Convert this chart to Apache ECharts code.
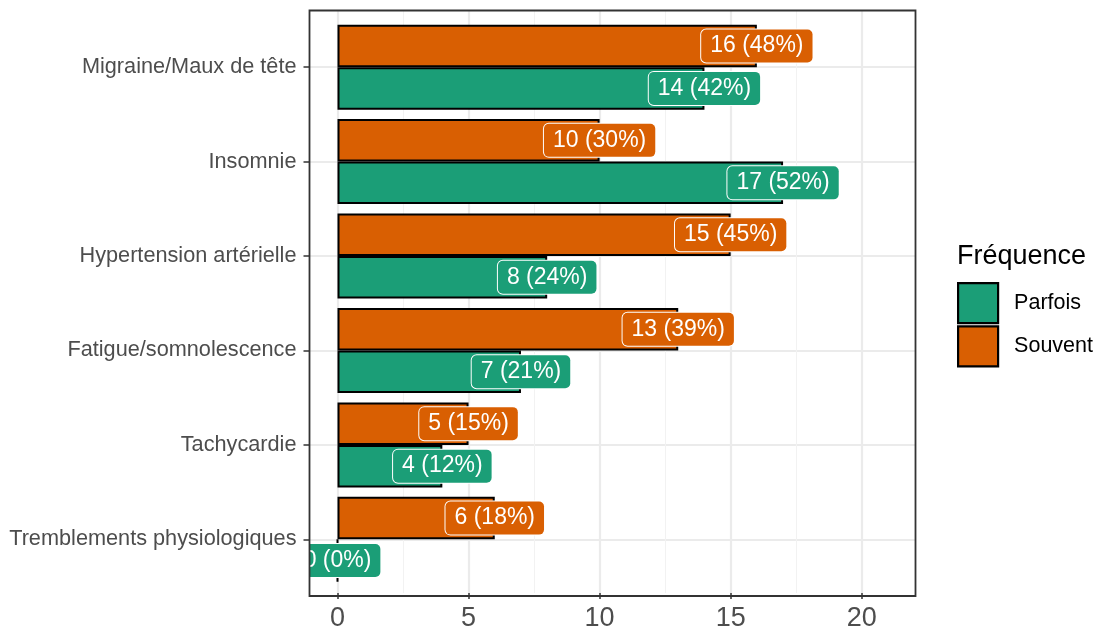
<!DOCTYPE html>
<html lang="fr">
<head>
    <meta charset="UTF-8">
    <title>Fréquence des symptômes</title>
    <style>
        html, body { margin: 0; padding: 0; background: #fff; }
    </style>
</head>
<body>
<div id="main" style="width: 1101px;height:632px;"></div>
<script src="https://cdn.jsdelivr.net/npm/echarts@6/dist/echarts.min.js"></script>
<script>
    // données
    var categories = ['Migraine/Maux de tête', 'Insomnie', 'Hypertension artérielle',
        'Fatigue/somnolescence', 'Tachycardie', 'Tremblements physiologiques'];
    var souvent = [16, 10, 15, 13, 5, 6];
    var souventPct = [48, 30, 45, 39, 15, 18];
    var parfois = [14, 17, 8, 7, 4, 0];
    var parfoisPct = [42, 52, 24, 21, 12, 0];
    var xTicks = [0, 5, 10, 15, 20];

    var FONT = 'Liberation Sans, Arial, sans-serif';
    var GREEN = '#1b9e77', ORANGE = '#d95f02';

    // panneau
    var pL = 309.5, pR = 915.5, pT = 10.5, pB = 596;
    var unit = (pB - pT) / 6.2;          // une catégorie
    var x0 = 337.5, x20 = 861.7;          // positions de 0 et 20
    var pxPerUnit = (x20 - x0) / 20;

    function labelData(vals, pct, side) {
        var out = [];
        for (var i = 0; i < vals.length; i++) {
            out.push([vals[i], i, pct[i], side]);
        }
        return out;
    }

    function renderLabel(params, api) {
        var v = api.value(0), c = api.value(1), p = api.value(2), side = api.value(3);
        var pt = api.coord([v, c]);
        var band = api.size([0, 1])[1];
        var dy = band * 0.9 / 4 * (side === 0 ? -1 : 1);
        return {
            type: 'text',
            x: pt[0],
            y: pt[1] + dy,
            style: {
                text: v + ' (' + p + '%)',
                fill: '#fff',
                fontSize: 23,
                fontFamily: FONT,
                align: 'center',
                verticalAlign: 'middle',
                backgroundColor: side === 0 ? ORANGE : GREEN,
                borderColor: '#fff',
                borderWidth: 1,
                borderRadius: 5,
                padding: [5, 9, 5, 9]
            }
        };
    }

    var myChart = echarts.init(document.getElementById('main'));
    var option = {
        animation: false,
        backgroundColor: '#fff',
        grid: [
            // grille verticale + axe x
            {left: x0, right: 1101 - x20, top: pT, bottom: 632 - pB},
            // grille horizontale + graduations y
            {left: pL, right: 1101 - pR, top: pT + 0.6 * unit, bottom: 632 - (pB - 0.6 * unit)},
            // barres
            {left: pL, right: 1101 - pR, top: pT + 0.1 * unit, bottom: 632 - (pB - 0.1 * unit)}
        ],
        xAxis: [
            {
                gridIndex: 0, type: 'value', min: 0, max: 20, interval: 5,
                axisLine: {show: false},
                axisTick: {show: true, length: 6, lineStyle: {color: '#333', width: 1.5}},
                axisLabel: {
                    fontSize: 27, color: '#4d4d4d', margin: 12, fontFamily: FONT,
                    formatter: function (v) { return xTicks.indexOf(v) >= 0 ? String(v) : ''; }
                },
                splitLine: {show: true, lineStyle: {color: '#ebebeb', width: 2.2}},
                minorTick: {show: false, splitNumber: 2},
                minorSplitLine: {show: true, lineStyle: {color: '#f2f2f2', width: 1.1}}
            },
            {gridIndex: 1, type: 'value', min: 0, max: 1, show: false},
            {
                gridIndex: 2, type: 'value', show: false,
                min: -(x0 - pL) / pxPerUnit, max: (pR - x0) / pxPerUnit
            }
        ],
        yAxis: [
            {gridIndex: 0, type: 'value', show: false},
            {
                gridIndex: 1, type: 'value', min: 0, max: 5, interval: 1,
                axisLine: {show: false},
                axisLabel: {show: false},
                axisTick: {show: true, length: 6, lineStyle: {color: '#333', width: 1.5}},
                splitLine: {show: true, lineStyle: {color: '#ebebeb', width: 2.2}}
            },
            {
                gridIndex: 2, type: 'category', data: categories, inverse: true,
                axisLine: {show: false},
                axisTick: {show: false},
                splitLine: {show: false},
                axisLabel: {interval: 0, fontSize: 21.7, color: '#4d4d4d', margin: 13, fontFamily: FONT}
            }
        ],
        legend: {
            data: ['Parfois', 'Souvent'],
            orient: 'vertical',
            left: 957, top: 282, padding: 0,
            itemWidth: 40, itemHeight: 40, itemGap: 1,
            icon: 'rect',
            itemStyle: {borderColor: '#000', borderWidth: 2.2},
            textStyle: {fontSize: 21.5, color: '#000', fontFamily: FONT, padding: [0, 0, 0, 11]}
        },
        graphic: [
            {
                type: 'text', x: 957, y: 257, z: 100,
                style: {text: 'Fréquence', fontSize: 27, fill: '#000', fontFamily: FONT, verticalAlign: 'middle'}
            },
            {
                type: 'rect', z: 100, silent: true,
                shape: {x: pL, y: pT, width: pR - pL, height: pB - pT},
                style: {fill: null, stroke: '#333', lineWidth: 1.8}
            }
        ],
        series: [
            {
                name: 'Souvent', type: 'bar', xAxisIndex: 2, yAxisIndex: 2,
                data: souvent, barGap: '0%', barCategoryGap: '10%',
                itemStyle: {color: ORANGE, borderColor: '#000', borderWidth: 2}
            },
            {
                name: 'Parfois', type: 'bar', xAxisIndex: 2, yAxisIndex: 2,
                data: parfois, barGap: '0%', barCategoryGap: '10%',
                itemStyle: {color: GREEN, borderColor: '#000', borderWidth: 2}
            },
            {
                name: 'labels', type: 'custom', xAxisIndex: 2, yAxisIndex: 2,
                clip: true, z: 5, silent: true,
                renderItem: renderLabel,
                data: labelData(souvent, souventPct, 0).concat(labelData(parfois, parfoisPct, 1))
            }
        ]
    };
    myChart.setOption(option);
</script>
</body>
</html>
